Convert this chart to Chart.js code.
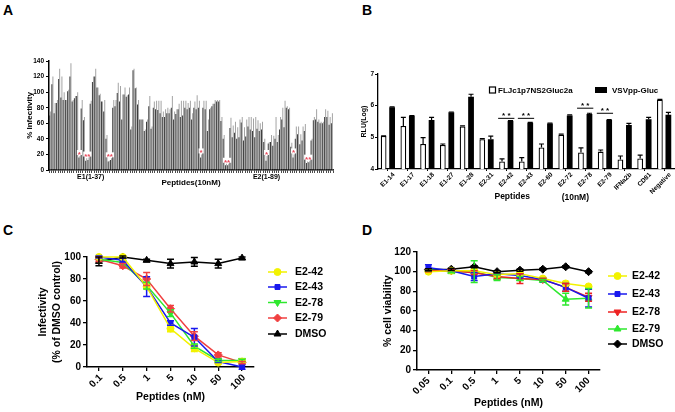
<!DOCTYPE html>
<html><head><meta charset="utf-8">
<script src="https://cdn.jsdelivr.net/npm/chart.js@4.4.0/dist/chart.umd.min.js"></script>
<style>
html,body{margin:0;padding:0;background:#fff}
body{width:675px;height:412px;position:relative;overflow:hidden;font-family:Arial,"Liberation Sans",sans-serif}
canvas{position:absolute}
.lbl{position:absolute;font:bold 14px Arial,"Liberation Sans",sans-serif;color:#000;line-height:16px}
</style></head><body>
<div class="lbl" style="left:3px;top:2px">A</div>
<div class="lbl" style="left:362px;top:2px">B</div>
<div class="lbl" style="left:3px;top:222px">C</div>
<div class="lbl" style="left:362px;top:222px">D</div>
<canvas id="cA" width="340" height="200" style="left:0;top:0"></canvas>
<canvas id="cB" width="345" height="205" style="left:330px;top:0"></canvas>
<canvas id="cC" width="340" height="212" style="left:0;top:200px"></canvas>
<canvas id="cD" width="345" height="212" style="left:330px;top:200px"></canvas>
<script>
// ---------- Panel A data ----------
const e1Count = 37, e2Count = 89;
const e1Names = Array.from({length:e1Count},(_,i)=>'E1-'+(i+1));
const e2Names = Array.from({length:e2Count},(_,i)=>'E2-'+(i+1));
const e1Dark = [70,110,73,86,117,93,90,90,101,120,88,92,95,16,79,64,12,13,85,113,120,106,96,88,75,40,11,13,80,82,99,88,65,97,94,97,52];
const e1Light = [75,120,86,90,130,120,100,90,103,137,90,95,100,18,90,68,15,16,89,120,130,106,98,88,90,45,12,15,90,90,112,108,97,106,96,106,56];
const e2Dark = [128,105,84,65,65,50,62,82,53,80,78,77,73,68,68,73,73,80,65,72,78,68,70,80,78,80,65,80,78,80,16,80,78,50,78,82,85,88,88,63,40,6,6,54,42,48,40,42,61,38,43,56,52,50,42,53,50,52,36,12,34,36,31,40,36,52,65,55,80,78,30,16,40,46,33,38,50,9,10,38,64,65,62,60,60,68,68,58,60];
const e2Light = [130,106,90,65,65,52,65,95,56,88,89,89,89,75,78,80,78,95,75,78,85,89,89,89,86,89,73,88,96,89,20,89,89,65,80,85,90,90,90,68,45,8,8,67,57,62,55,65,68,55,65,68,68,66,68,64,60,62,40,18,36,45,44,68,45,68,80,89,82,80,35,20,56,56,46,56,59,11,12,40,68,78,65,62,62,78,76,68,73];
const aStarGroups = [['E1-14'],['E1-17','E1-18'],['E1-27','E1-28'],['E2-31'],['E2-42','E2-43'],['E2-60'],['E2-72'],['E2-78','E2-79']];
const aStarMarks = ['*','**','**','*','**','*','*','**'];

// ---------- Panel B data ----------
const bLabels = ['E1-14','E1-17','E1-18','E1-27','E1-28','E2-31','E2-42','E2-43','E2-60','E2-72','E2-78','E2-79','IFNa2b','CD81','Negative'];
const bFlj    = [5.04,5.36,4.79,4.76,5.34,4.94,4.24,4.24,4.68,5.08,4.52,4.55,4.30,4.33,6.19];
const bFljErr = [0.01,0.27,0.20,0.03,0.02,0.02,0.08,0.12,0.11,0.02,0.15,0.05,0.11,0.11,0.01];
const bVsv    = [5.95,5.68,5.55,5.79,6.28,4.94,5.52,5.46,5.44,5.69,5.74,5.55,5.39,5.57,5.71];
const bVsvErr = [0.01,0.01,0.08,0.01,0.08,0.10,0.01,0.01,0.01,0.02,0.02,0.01,0.05,0.06,0.08];
const bSigPairs = [['E2-42'],['E2-43'],['E2-78'],['E2-79']];
const bSigLevel = [5.6,5.6,5.92,5.76];

// ---------- Panel C data ----------
const cDoses = ['0.1','0.5','1','5','10','50','100'];
const c42 = [100,100,73,35,17,4,5],   c42Err = [0,0,0,3,3,1,2];
const c43 = [100,97,73,40,27,5,0],    c43Err = [1,2,9,2,8,1,2];
const c78 = [98,95,74,49,19,6,6],     c78Err = [0,0,3,3,2,1,1];
const c79 = [98,92,80,53,28,11,4],    c79Err = [2,2,6,3,4,2,1];
const cDmso = [96,100,97,94,95.5,94,99], cDmsoErr = [4,1,1,4,4,4,1];

// ---------- Panel D data ----------
const dDoses = ['0.05','0.1','0.5','1','5','10','50','100'];
const d42 = [100,101,101,97,98,93,88,85],      d42Err = [1,1,1,1,1,1,2,1];
const d43 = [104,101,95,98,96,92,84,73],       d43Err = [3,1,4,1,2,1,4,9];
const d78 = [101,101,99,95,93,92,84,74],       d78Err = [1,1,2,2,5,1,4,4];
const d79 = [102,100,100,94,93,91,72,73],      d79Err = [1,1,11,3,2,1,6,10];
const dDmso = [102,102.5,105,100,101.5,102.5,105,100], dDmsoErr = [1,1,1,1,1,1,1,1];

// ---------- common ----------
const FONT = "Arial, 'Liberation Sans', Helvetica, sans-serif";
Chart.defaults.font.family = FONT;
Chart.defaults.color = '#000';
Chart.defaults.animation = false;
Chart.defaults.plugins.legend.display = false;
Chart.defaults.plugins.tooltip.enabled = false;
const fixW = w => s => { s.width = w; };
const fixH = h => s => { s.height = h; };
const BF = (size) => ({size:size, weight:'bold', family:FONT});

const errPlugin = {
  id:'errbars',
  afterDatasetsDraw(chart){
    const ctx = chart.ctx, ys = chart.scales.y;
    chart.data.datasets.forEach((ds,di)=>{
      if(!ds.err) return;
      const meta = chart.getDatasetMeta(di);
      meta.data.forEach((el,i)=>{
        const e = ds.err[i]; if(!e) return;
        const v = ds.data[i], x = el.x;
        const yHi = ys.getPixelForValue(v+e);
        const yLo = ds.errUpOnly ? ys.getPixelForValue(v) : ys.getPixelForValue(v-e);
        const cw = ds.capWidth || 3;
        ctx.save();
        ctx.strokeStyle = ds.errColor || ds.borderColor;
        ctx.lineWidth = ds.errWidth || 1.5;
        ctx.beginPath();
        ctx.moveTo(x,yLo); ctx.lineTo(x,yHi);
        ctx.moveTo(x-cw,yHi); ctx.lineTo(x+cw,yHi);
        if(!ds.errUpOnly){ ctx.moveTo(x-cw,yLo); ctx.lineTo(x+cw,yLo); }
        ctx.stroke();
        ctx.restore();
      });
    });
  }
};

const lineLegend = {
  id:'lineLegend',
  afterDraw(chart, args, o){
    if(!o || !o.ys) return;
    const ctx = chart.ctx;
    chart.data.datasets.forEach((ds,i)=>{
      const y = o.ys[i];
      ctx.save();
      ctx.strokeStyle = ds.borderColor; ctx.lineWidth = 1.5;
      ctx.beginPath(); ctx.moveTo(o.x0,y); ctx.lineTo(o.x1,y); ctx.stroke();
      ctx.fillStyle = ds.backgroundColor; ctx.strokeStyle = ds.borderColor; ctx.lineWidth = 1;
      Chart.helpers.drawPoint(ctx, {pointStyle:ds.pointStyle, rotation:ds.pointRotation||0, radius:ds.pointRadius, borderWidth:1}, (o.x0+o.x1)/2, y);
      ctx.fillStyle = '#000';
      ctx.font = 'bold '+o.size+'px '+FONT;
      ctx.textBaseline = 'middle'; ctx.textAlign = 'left';
      ctx.fillText(ds.label, o.tx, y+0.5);
      ctx.restore();
    });
  }
};

// ---------- Panel A ----------
const aLabels = e1Names.concat(e2Names);
const aDark = e1Dark.concat(e2Dark);
const aLight = e1Light.concat(e2Light);
const starsA = {
  id:'starsA',
  afterDatasetsDraw(chart){
    const ctx = chart.ctx, xs = chart.scales.x, ys = chart.scales.y;
    ctx.save();
    ctx.font = 'bold 8px '+FONT;
    ctx.textAlign = 'center'; ctx.textBaseline = 'alphabetic';
    aStarGroups.forEach((g,k)=>{
      let xsum = 0, top = 0;
      g.forEach(n=>{ const i = aLabels.indexOf(n); xsum += xs.getPixelForValue(i); top = Math.max(top, aDark[i], aLight[i]); });
      const x = xsum/g.length;
      const y = ys.getPixelForValue(top) - 1;
      const w = ctx.measureText(aStarMarks[k]).width + 2;
      ctx.fillStyle = '#fff';
      ctx.fillRect(x-w/2, y-5, w, 5);
      ctx.fillStyle = '#e8485a';
      ctx.fillText(aStarMarks[k], x, y+2);
    });
    ctx.restore();
  }
};
new Chart(document.getElementById('cA'), {
  type:'bar',
  data:{labels:aLabels, datasets:[
    {label:'Dark', data:aDark, backgroundColor:'#3a3a3a', categoryPercentage:0.92, barPercentage:0.95},
    {label:'Light', data:aLight, backgroundColor:'#a2a2a2', categoryPercentage:0.92, barPercentage:0.95}
  ]},
  options:{
    responsive:false,
    layout:{padding:{left:21,right:7,top:61,bottom:0}},
    scales:{
      x:{
        grid:{display:true, drawOnChartArea:false, tickLength:3, color:'#000', lineWidth:0.7},
        border:{display:true, color:'#000', width:1.5},
        ticks:{autoSkip:false, maxRotation:0, minRotation:0, padding:0, font:BF(7),
          callback:(v,i)=> i===18 ? 'E1(1-37)' : (i===96 ? 'E2(1-89)' : '')},
        title:{display:true, text:'Peptides(10nM)', font:BF(8), padding:{top:0,bottom:12}},
        afterFit:fixH(30)
      },
      y:{
        min:0, max:140,
        ticks:{stepSize:20, font:BF(6.5), padding:2},
        grid:{drawOnChartArea:false, tickLength:3, color:'#000'},
        border:{display:true, color:'#000', width:1.5},
        title:{display:true, text:'% Infectivity', font:BF(8), padding:{top:4,bottom:0}},
        afterFit:fixW(28)
      }
    }
  },
  plugins:[starsA]
});

// ---------- Panel B ----------
const bExtras = {
  id:'bExtras',
  afterDraw(chart){
    const ctx = chart.ctx, xs = chart.scales.x, ys = chart.scales.y;
    ctx.save();
    ctx.strokeStyle = '#000'; ctx.lineWidth = 1; ctx.fillStyle = '#000';
    ctx.font = 'bold 8px '+FONT; ctx.textAlign = 'center';
    bSigPairs.forEach((p,k)=>{
      const i = bLabels.indexOf(p[0]);
      const e0 = chart.getDatasetMeta(0).data[i], e1 = chart.getDatasetMeta(1).data[i];
      const xl = e0.x - e0.width/2 - 1, xr = e1.x + e1.width/2 + 1;
      const y = ys.getPixelForValue(bSigLevel[k]);
      ctx.beginPath(); ctx.moveTo(xl,y); ctx.lineTo(xr,y); ctx.stroke();
      ctx.fillText('* *', (xl+xr)/2, y-0.5);
    });
    ctx.font = 'bold 8.5px '+FONT; ctx.textBaseline = 'middle';
    const cw = xs.getPixelForValue(1) - xs.getPixelForValue(0);
    ctx.fillText('Peptides', xs.getPixelForValue(6) + cw*0.3, 197);
    ctx.fillText('(10nM)', xs.getPixelForValue(10) - cw*0.5, 197.5);
    ctx.textAlign = 'left'; ctx.font = 'bold 8px '+FONT;
    ctx.fillStyle = '#fff'; ctx.strokeStyle = '#000'; ctx.lineWidth = 1.2;
    ctx.fillRect(159.5,87,6,6); ctx.strokeRect(159.5,87,6,6);
    ctx.fillStyle = '#000';
    ctx.fillText(chart.data.datasets[0].label, 168, 90.5);
    ctx.fillRect(265,87,12,6);
    ctx.fillText(chart.data.datasets[1].label, 282, 90.5);
    ctx.restore();
  }
};
new Chart(document.getElementById('cB'), {
  type:'bar',
  data:{labels:bLabels, datasets:[
    {label:'FLJc1p7NS2Gluc2a', data:bFlj, err:bFljErr, errUpOnly:true, errColor:'#000', errWidth:1.2, capWidth:2.5,
     backgroundColor:'#fff', borderColor:'#000', borderWidth:1.3, borderSkipped:false},
    {label:'VSVpp-Gluc', data:bVsv, err:bVsvErr, errUpOnly:true, errColor:'#000', errWidth:1.2, capWidth:2.5,
     backgroundColor:'#000', borderColor:'#000', borderWidth:0}
  ]},
  options:{
    responsive:false,
    datasets:{bar:{categoryPercentage:0.86, barPercentage:0.68}},
    layout:{padding:{left:29,right:1,top:74,bottom:0}},
    scales:{
      x:{
        offset:true,
        grid:{display:true, offset:false, drawOnChartArea:false, tickLength:2, color:'#000'},
        border:{display:true, color:'#000', width:1.3},
        ticks:{autoSkip:false, minRotation:45, maxRotation:45, labelOffset:6, padding:0, font:BF(6.5)},
        afterFit:fixH(36)
      },
      y:{
        min:4, max:7,
        ticks:{stepSize:1, font:BF(6.5), padding:1},
        grid:{drawOnChartArea:false, tickLength:3, color:'#000'},
        border:{display:true, color:'#000', width:1.3},
        title:{display:true, text:'RLU(Log)', font:BF(7), padding:{top:1,bottom:0}},
        afterFit:fixW(19)
      }
    }
  },
  plugins:[errPlugin, bExtras]
});

// ---------- line chart helper ----------
function lineDs(label, data, err, color, style, rot, r){
  return {label, data, err, borderColor:color, backgroundColor:color, pointStyle:style, pointRotation:rot||0,
    pointRadius:r, pointBorderWidth:1, borderWidth:1.5, tension:0, clip:false, capWidth:3.5, errWidth:1.5};
}
function lineOpts(p){
  return {
    responsive:false,
    layout:{padding:{left:p.padL, right:p.padR, top:p.padT, bottom:0}},
    plugins:{lineLegend:p.legend},
    scales:{
      x:{
        offset:true,
        grid:{display:true, offset:false, drawOnChartArea:false, tickLength:4, color:'#000', lineWidth:1.3},
        border:{display:true, color:'#000', width:1.5},
        ticks:{autoSkip:false, minRotation:45, maxRotation:45, labelOffset:p.labelOffset, padding:1, font:BF(10)},
        title:{display:true, text:'Peptides (nM)', font:BF(10.5), padding:{top:0,bottom:p.titleBottom}},
        afterFit:fixH(p.xH)
      },
      y:{
        min:p.min, max:p.max,
        ticks:{stepSize:20, font:BF(10), padding:2},
        grid:{drawOnChartArea:false, tickLength:4, color:'#000', lineWidth:1.3},
        border:{display:true, color:'#000', width:1.5},
        title:{display:true, text:p.yTitle, font:{size:10.5, weight:'bold', family:FONT, lineHeight:1.25}, padding:{top:4,bottom:0}},
        afterFit:fixW(p.yW)
      }
    }
  };
}

// ---------- Panel C ----------
new Chart(document.getElementById('cC'), {
  type:'line',
  data:{labels:cDoses, datasets:[
    lineDs('E2-42', c42, c42Err, '#f2f200', 'circle', 0, 3.5),
    lineDs('E2-43', c43, c43Err, '#1818ee', 'rect', 0, 3.5),
    lineDs('E2-78', c78, c78Err, '#2ee82e', 'triangle', 180, 4),
    lineDs('E2-79', c79, c79Err, '#f04040', 'rectRot', 0, 4),
    lineDs('DMSO', cDmso, cDmsoErr, '#000000', 'triangle', 0, 4)
  ]},
  options:lineOpts({padL:33, padR:86, padT:57, xH:45, yW:54, min:0, max:100, labelOffset:2, titleBottom:9,
    yTitle:['Infectivity','(% of DMSO control)'],
    legend:{x0:268, x1:287, tx:295, ys:[72,87,102.5,118,134], size:10.5}}),
  plugins:[errPlugin, lineLegend]
});

// ---------- Panel D ----------
new Chart(document.getElementById('cD'), {
  type:'line',
  data:{labels:dDoses, datasets:[
    lineDs('E2-42', d42, d42Err, '#f2f200', 'circle', 0, 3.5),
    lineDs('E2-43', d43, d43Err, '#1818ee', 'rect', 0, 3.5),
    lineDs('E2-78', d78, d78Err, '#ee2222', 'triangle', 180, 4),
    lineDs('E2-79', d79, d79Err, '#2ee82e', 'triangle', 0, 4),
    lineDs('DMSO', dDmso, dDmsoErr, '#000000', 'rectRot', 0, 4)
  ]},
  options:lineOpts({padL:48, padR:75, padT:52, xH:42, yW:39, min:0, max:120, labelOffset:0, titleBottom:3,
    yTitle:'% cell viability',
    legend:{x0:278, x1:297, tx:302, ys:[76,94,112,129,144], size:10.5}}),
  plugins:[errPlugin, lineLegend]
});
</script>
</body></html>
